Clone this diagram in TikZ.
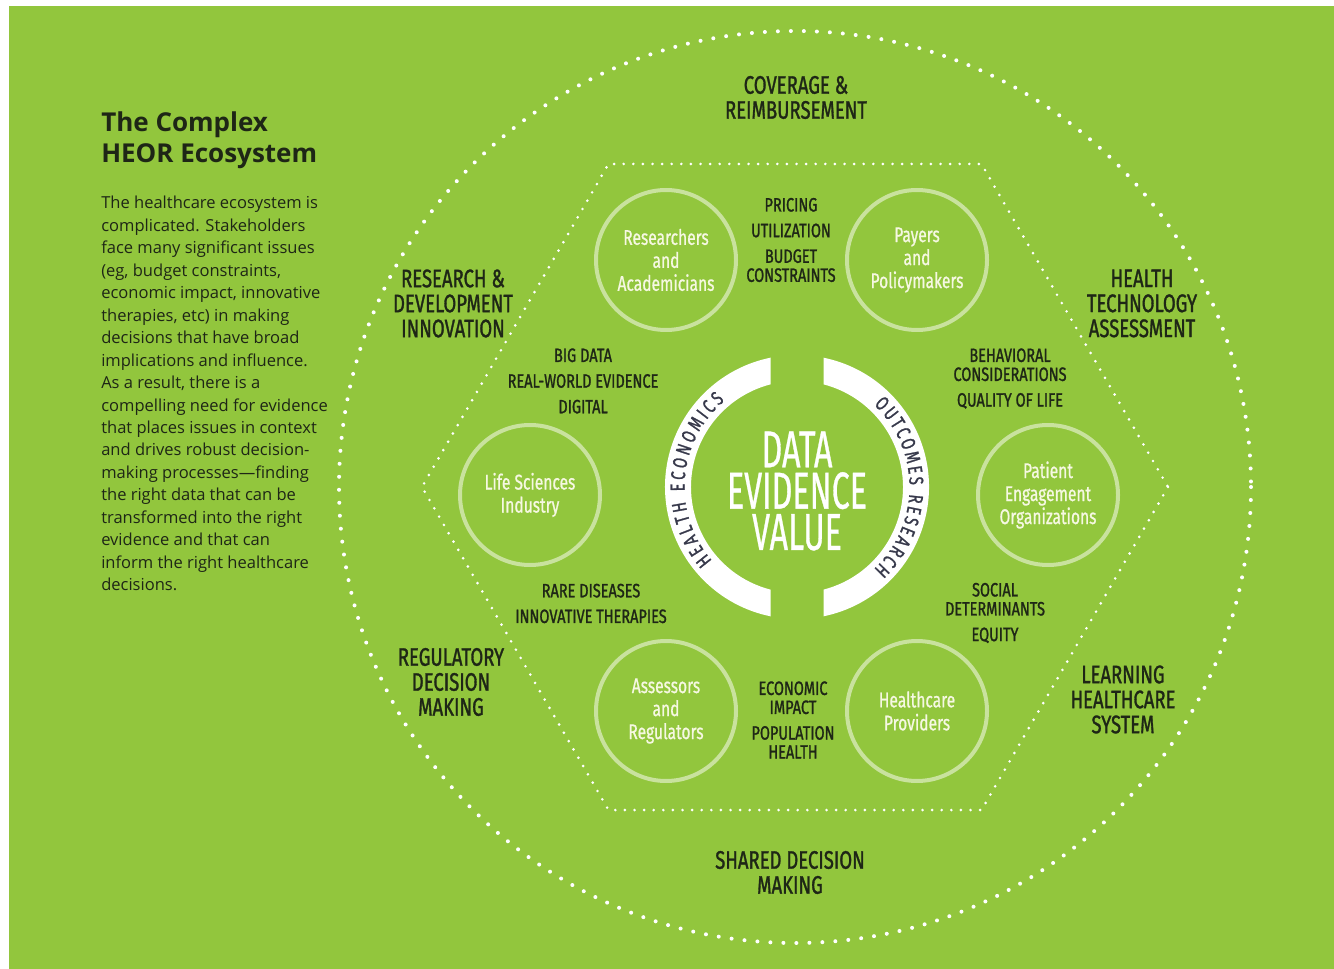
\documentclass[tikz,border=0pt]{standalone}
\usepackage{fontspec}
\setmainfont{Open Sans}
\newfontfamily\narrowfont[FakeStretch=0.73,FakeBold=0.8]{Fira Sans}
\newfontfamily\narrowbold[FakeStretch=0.73,FakeBold=1.2]{Fira Sans}
\newfontfamily\labelbold[FakeStretch=0.75,FakeBold=1.2]{Fira Sans}
\newfontfamily\corefont[FakeStretch=0.62,FakeBold=0.6]{Fira Sans}
\usetikzlibrary{decorations.text}

\definecolor{leaf}{RGB}{146,198,61}
\definecolor{ink}{RGB}{30,38,22}
\definecolor{arcink}{RGB}{55,57,75}
\definecolor{cream}{RGB}{246,248,226}
\colorlet{ring}{white!50!leaf}

\begin{document}
\begin{tikzpicture}[x=0.75pt,y=-0.75pt,
  outerlab/.style={font=\narrowbold\fontsize{19}{18.75}\selectfont, text=ink, align=center, inner sep=0},
  innerlab/.style={font=\labelbold\fontsize{14.5}{14.25}\selectfont, text=ink, align=center, inner sep=0},
  actor/.style={circle, draw=ring, line width=3pt, minimum size=105pt, inner sep=0, align=center,
    text=cream, font=\narrowfont\fontsize{16}{17.25}\selectfont},
  bigdots/.style={white, line width=3pt, line cap=round, dash pattern=on 0pt off 9.75pt},
  hexdots/.style={white, line width=2.2pt, line cap=round, dash pattern=on 0pt off 7.2pt}]

  % page and background
  \useasboundingbox (0,0) rectangle (1334,969);
  \fill[white] (0,0) rectangle (1334,969);
  \fill[leaf] (9,6) rectangle (1334,969);

  % left column
  \node[anchor=north west, align=left, inner sep=0, text=ink,
    font=\bfseries\fontsize{19.5}{23.25}\selectfont] (title) at (101,111) {The Complex\\HEOR Ecosystem};
  \node[anchor=north west, align=left, inner sep=0, text=ink,
    font=\fontsize{12.4}{16.85}\selectfont] (blurb) at (101,196)
    {The healthcare ecosystem is\\complicated. Stakeholders\\face many significant issues\\
     (eg, budget constraints,\\economic impact, innovative\\therapies, etc) in making\\
     decisions that have broad\\implications and influence.\\As a result, there is a\\
     compelling need for evidence\\that places issues in context\\and drives robust decision-\\
     making processes—finding\\the right data that can be\\transformed into the right\\
     evidence and that can\\inform the right healthcare\\decisions.};

  % dotted rings
  \draw[bigdots] (795,487) circle[radius=456];
  \draw[hexdots, shift={(795,487)}] (0:373) -- (60:373) -- (120:373) -- (180:373)
    -- (240:373) -- (300:373) -- cycle;

  % outer labels
  \node[outerlab] (cov) at (796,97.5) {COVERAGE \&\\REIMBURSEMENT};
  \node[outerlab] (hta) at (1142,303.5) {HEALTH\\TECHNOLOGY\\ASSESSMENT};
  \node[outerlab] (lhs) at (1123,699.5) {LEARNING\\HEALTHCARE\\SYSTEM};
  \node[outerlab] (sdm) at (790,872.5) {SHARED DECISION\\MAKING};
  \node[outerlab] (rdm) at (451,682) {REGULATORY\\DECISION\\MAKING};
  \node[outerlab] (rdi) at (453,303.5) {RESEARCH \&\\DEVELOPMENT\\INNOVATION};

  % stakeholders
  \node[actor] (res) at (666,260) {Researchers\\and\\Academicians};
  \node[actor] (pay) at (917,260) {Payers\\and\\Policymakers};
  \node[actor] (life) at (530,495) {Life Sciences\\Industry};
  \node[actor] (pat) at (1048,495) {Patient\\Engagement\\Organizations};
  \node[actor] (ass) at (666,711) {Assessors\\and\\Regulators};
  \node[actor] (hcp) at (917,711) {Healthcare\\Providers};

  % issues between stakeholders
  \node[innerlab] (price) at (791,240) {PRICING\\[5pt]UTILIZATION\\[5pt]BUDGET\\CONSTRAINTS};
  \node[innerlab] (rwe) at (583,381) {BIG DATA\\[5pt]REAL-WORLD EVIDENCE\\[5pt]DIGITAL};
  \node[innerlab] (qol) at (1010,378.5) {BEHAVIORAL\\CONSIDERATIONS\\[5pt]QUALITY OF LIFE};
  \node[innerlab] (rare) at (591,603.5) {RARE DISEASES\\[5pt]INNOVATIVE THERAPIES};
  \node[innerlab] (equ) at (995,613) {SOCIAL\\DETERMINANTS\\[5pt]EQUITY};
  \node[innerlab] (econ) at (793,720) {ECONOMIC\\IMPACT\\[5pt]POPULATION\\HEALTH};

  % core
  \node[align=center, inner sep=0, text=white, font=\corefont\fontsize{39}{31}\selectfont]
    (core) at (797,491) {DATA\\EVIDENCE\\VALUE};

  \begin{scope}[shift={(797,487)}, yscale=-1]
    \pgfmathsetmacro{\Ro}{132} % outer radius of band
    \pgfmathsetmacro{\Ri}{106} % inner radius of band
    \pgfmathsetmacro{\g}{26.5} % half gap
    \pgfmathsetmacro{\ao}{acos(\g/\Ro)}
    \pgfmathsetmacro{\ai}{acos(\g/\Ri)}
    \coordinate (O) at (0,0);

    \fill[white] ({180-\ao}:\Ro) arc[start angle={180-\ao}, end angle={180+\ao}, radius=\Ro]
      -- ({180+\ai}:\Ri) arc[start angle={180+\ai}, end angle={180-\ai}, radius=\Ri] -- cycle;
    \fill[white] (\ao:\Ro) arc[start angle=\ao, end angle=-\ao, radius=\Ro]
      -- (-\ai:\Ri) arc[start angle=-\ai, end angle=\ai, radius=\Ri] -- cycle;

    \path[decorate, decoration={text along path, text align=fit to path, text color=arcink,
      text={|\narrowbold\fontsize{15}{15}\selectfont|HEALTH ECONOMICS}}]
      (221:112.5) arc[start angle=221, end angle=130, radius=112.5];
    \path[decorate, decoration={text along path, text align=fit to path, text color=arcink,
      text={|\narrowbold\fontsize{15}{15}\selectfont|OUTCOMES RESEARCH}}]
      (47:112.5) arc[start angle=47, end angle=-47, radius=112.5];
  \end{scope}
\end{tikzpicture}
\end{document}
